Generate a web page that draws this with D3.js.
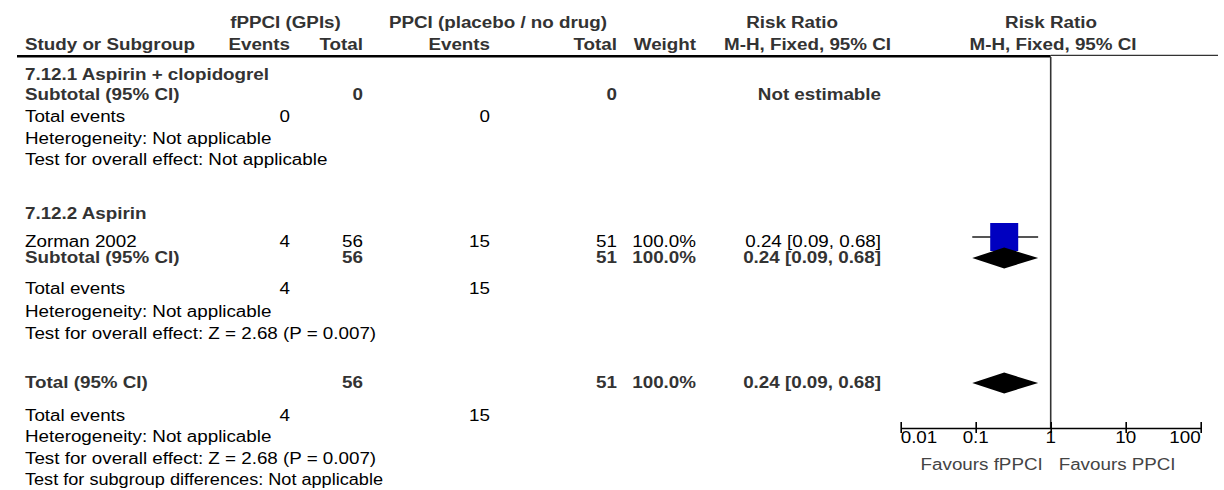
<!DOCTYPE html>
<html>
<head>
<meta charset="utf-8">
<script src="https://cdn.jsdelivr.net/npm/d3@7"></script>
<style>
  html, body { margin: 0; padding: 0; background: #fff; }
  svg { display: block; }
  text { font-family: "Liberation Sans", Arial, sans-serif; font-size: 16px; }
</style>
</head>
<body>
<svg id="chart" width="1224" height="490"></svg>
<script>
// ---------------- DATA ----------------
const headerTop = ["fPPCI (GPIs)", "PPCI (placebo / no drug)", "Risk Ratio", "Risk Ratio"];
const headerCols = ["Study or Subgroup", "Events", "Total", "Events", "Total", "Weight", "M-H, Fixed, 95% CI", "M-H, Fixed, 95% CI"];

// table rows: label, bold, events1, total1, events2, total2, weight, ci text
const rowLabels  = ["7.12.1 Aspirin + clopidogrel", "Subtotal (95% CI)", "Total events", "Heterogeneity: Not applicable", "Test for overall effect: Not applicable",
                    "7.12.2 Aspirin", "Zorman 2002", "Subtotal (95% CI)", "Total events", "Heterogeneity: Not applicable", "Test for overall effect: Z = 2.68 (P = 0.007)",
                    "Total (95% CI)", "Total events", "Heterogeneity: Not applicable", "Test for overall effect: Z = 2.68 (P = 0.007)", "Test for subgroup differences: Not applicable"];
const rowBold    = [true, true, false, false, false, true, false, true, false, false, false, true, false, false, false, false];
const rowEvents1 = ["", "", "0", "", "", "", "4", "", "4", "", "", "", "4", "", "", ""];
const rowTotal1  = ["", "0", "", "", "", "", "56", "56", "", "", "", "56", "", "", "", ""];
const rowEvents2 = ["", "", "0", "", "", "", "15", "", "15", "", "", "", "15", "", "", ""];
const rowTotal2  = ["", "0", "", "", "", "", "51", "51", "", "", "", "51", "", "", "", ""];
const rowWeight  = ["", "", "", "", "", "", "100.0%", "100.0%", "", "", "", "100.0%", "", "", "", ""];
const rowCI      = ["", "Not estimable", "", "", "", "", "0.24 [0.09, 0.68]", "0.24 [0.09, 0.68]", "", "", "", "0.24 [0.09, 0.68]", "", "", "", ""];

// forest plot marks
const studyRR   = [0.24];   // Zorman 2002
const studyLo   = [0.09];
const studyHi   = [0.68];
const studyRow  = [6];
const pooledRR  = [0.24, 0.24];  // subtotal 7.12.2, overall total
const pooledLo  = [0.09, 0.09];
const pooledHi  = [0.68, 0.68];
const pooledRow = [7, 11];

const tickValues = [0.01, 0.1, 1, 10, 100];
const tickLabels = ["0.01", "0.1", "1", "10", "100"];
const favourLeft = "Favours fPPCI";
const favourRight = "Favours PPCI";

// ---------------- LAYOUT ----------------
const SX = 1.175; // horizontal glyph stretch of the original
const rowBaseline = [80, 100, 122, 143.5, 165, 219, 246.5, 263, 294, 317, 339, 388, 421, 442, 463.5, 485];
const rowFitWidth = {15: 358};  // rendered width of the last footnote line in the original
const colRight = { ev1: 290, n1: 363, ev2: 490, n2: 617, w: 696, ci: 881 };
const leftX = 25;

const svg = d3.select("#chart");

function txt(x, y, s, opt = {}) {
  const t = svg.append("text")
    .attr("text-anchor", opt.anchor || "start")
    .attr("font-weight", opt.bold ? "bold" : "normal")
    .attr("fill", opt.color || (opt.bold ? "#333" : "#000"))
    .style("font-size", (opt.size || 16) + "px")
    .text(s);
  if (opt.len) {
    t.attr("transform", `translate(${x},${y})`)
     .attr("textLength", opt.len).attr("lengthAdjust", "spacingAndGlyphs");
  } else {
    t.attr("transform", `translate(${x},${y}) scale(${opt.sx || SX},1)`);
  }
  return t;
}

// headers
txt(285.5, 28, headerTop[0], { anchor: "middle", bold: true });
txt(607, 28, headerTop[1], { anchor: "end", bold: true });
txt(838, 28, headerTop[2], { anchor: "end", bold: true });
txt(1051, 28, headerTop[3], { anchor: "middle", bold: true });

const hx = [[leftX, "start"], [colRight.ev1, "end"], [colRight.n1, "end"], [colRight.ev2, "end"], [colRight.n2, "end"], [colRight.w, "end"], [891, "end"], [1053, "middle"]];
headerCols.forEach((h, i) => txt(hx[i][0], 50, h, { anchor: hx[i][1], bold: true }));

// forest scale
const x = d3.scaleLog().domain([0.01, 100]).range([900.7, 1200.7]);
const axisY = 428;

// header rules
svg.append("line").attr("x1", 17).attr("x2", x(1)).attr("y1", 56.3).attr("y2", 56.3)
  .attr("stroke", "#000").attr("stroke-width", 2.6);
svg.append("line").attr("x1", x(1)).attr("x2", 1218).attr("y1", 55.3).attr("y2", 55.3)
  .attr("stroke", "#333").attr("stroke-width", 1.2);

// table rows
rowLabels.forEach((lab, i) => {
  const y = rowBaseline[i], b = rowBold[i];
  txt(leftX, y, lab, { bold: b, len: rowFitWidth[i] });
  if (rowEvents1[i]) txt(colRight.ev1, y, rowEvents1[i], { anchor: "end", bold: b });
  if (rowTotal1[i])  txt(colRight.n1,  y, rowTotal1[i],  { anchor: "end", bold: b });
  if (rowEvents2[i]) txt(colRight.ev2, y, rowEvents2[i], { anchor: "end", bold: b });
  if (rowTotal2[i])  txt(colRight.n2,  y, rowTotal2[i],  { anchor: "end", bold: b });
  if (rowWeight[i])  txt(colRight.w,   y, rowWeight[i],  { anchor: "end", bold: b });
  if (rowCI[i])      txt(colRight.ci,  y, rowCI[i],      { anchor: "end", bold: b });
});

// vertical line of no effect
svg.append("line").attr("x1", x(1)).attr("x2", x(1)).attr("y1", 57).attr("y2", axisY)
  .attr("stroke", "#333").attr("stroke-width", 1.6);

// study CI + square
const sq = 28;
studyRR.forEach((rr, i) => {
  const cy = rowBaseline[studyRow[i]] - 9.5;
  svg.append("line").attr("x1", x(studyLo[i])).attr("x2", x(studyHi[i]))
    .attr("y1", cy).attr("y2", cy).attr("stroke", "#555").attr("stroke-width", 1.8);
  svg.append("rect").attr("x", x(rr) - sq / 2).attr("y", cy - sq / 2)
    .attr("width", sq).attr("height", sq).attr("fill", "#0000c0");
});

// pooled diamonds
pooledRR.forEach((rr, i) => {
  const cy = rowBaseline[pooledRow[i]] - 5;
  const h = 10.5;
  const pts = [[x(pooledLo[i]), cy], [x(rr), cy - h], [x(pooledHi[i]), cy], [x(rr), cy + h]];
  svg.append("path").attr("d", d3.line()(pts) + "Z").attr("fill", "#000");
});

// axis
const axis = d3.axisBottom(x).tickValues(tickValues).tickFormat((d, i) => tickLabels[i]).tickSize(5).tickSizeOuter(0);
const ag = svg.append("g").attr("transform", `translate(0,${axisY})`).call(axis);
ag.select(".domain").attr("stroke", "#000").attr("stroke-width", 1.6);
ag.selectAll(".tick line").attr("y1", -6).attr("y2", 5).attr("stroke", "#000").attr("stroke-width", 1.6);
ag.selectAll(".tick text").remove();
tickValues.forEach((v, i) => {
  const anchor = i === 0 ? "start" : (i === tickValues.length - 1 ? "end" : "middle");
  txt(x(v), 443, tickLabels[i], { anchor, size: 16, color: "#000" });
});

// favours labels
txt(x(1) - 8, 470, favourLeft, { anchor: "end", color: "#444" });
txt(x(1) + 8, 470, favourRight, { anchor: "start", color: "#444" });
</script>
</body>
</html>
